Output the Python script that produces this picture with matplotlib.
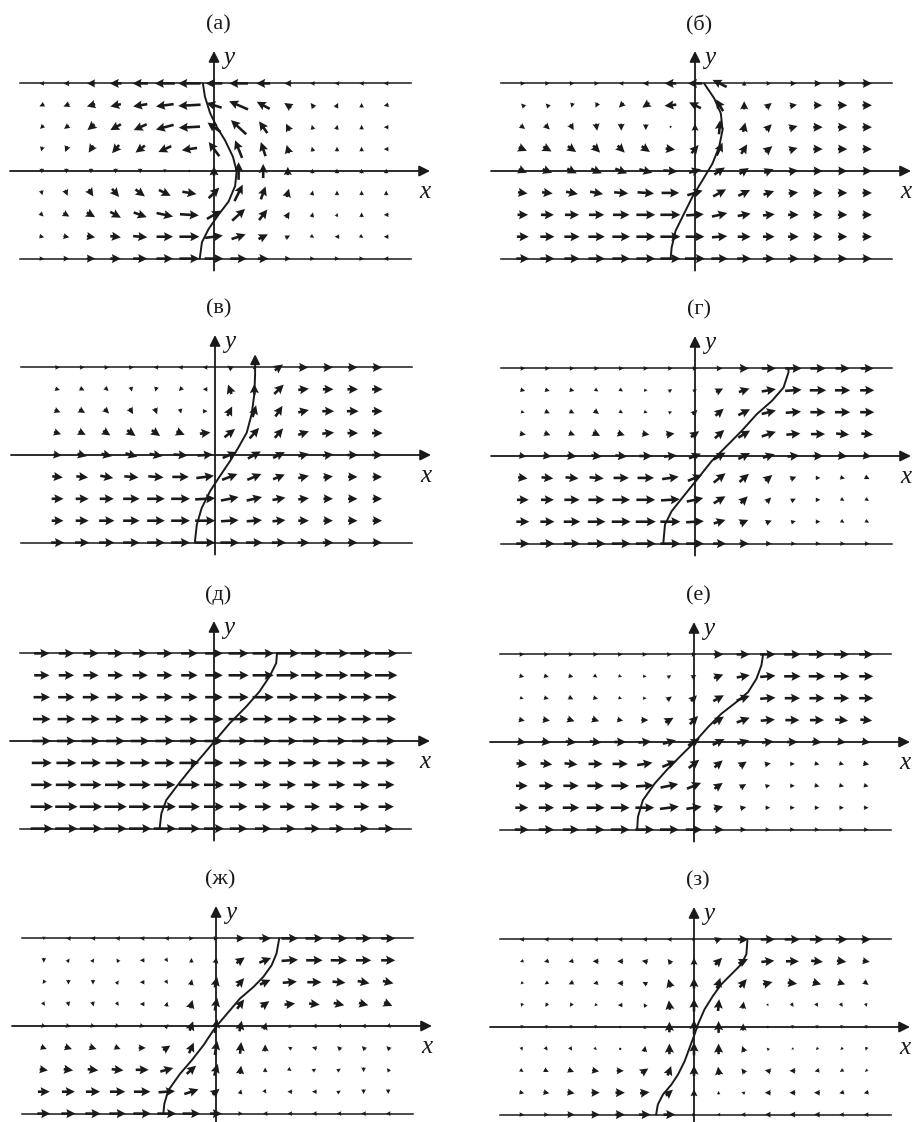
import numpy as np
import matplotlib
matplotlib.use("Agg")
import matplotlib.pyplot as plt

# Vector components in pixels, rows listed from the top wall (y=4) down to the bottom wall (y=-4)
u_a = [[-4, -5, -7, -10, -13, -17, -19, -14, -16, -12, -6, -4, -4, -4, -4],
       [-4, -5, -7, -9, -12, -15, -19, -13, -16, -11, -6, -3, 2, 0, -4],
       [-3, -4, -6, -9, -11, -15, -18, -11, -13, -7, -3, -1, 1, 0, -4],
       [-1, -2, -4, -6, -8, -11, -13, -9, -6, -4, -2, -1, 0, 0, -4],
       [0, 0, 0, 0, 0, 0, 0, 0, 0, 0, 0, 0, 0, 0, 0],
       [1, 2, 4, 6, 8, 10, 12, 9, 7, 4, 2, 1, 0, 0, 0],
       [3, 5, 7, 9, 11, 14, 16, 12, 11, 7, 3, 1, 1, 0, -4],
       [4, 5, 7, 9, 12, 14, 17, 15, 12, 8, 4, 3, -4, 3, -4],
       [4, 5, 7, 9, 12, 14, 17, 16, 14, 9, 5, 4, 4, 4, -4]]
v_a = [[0, 0, 0, 0, 0, 0, 0, 0, 0, 0, 0, 0, 0, 0, 0],
       [-2, -2, -2, -2, -2, -2, -1, 4, 7, 6, 4, 4, 4, 4, -1],
       [-3, -3, -5, -5, -5, -4, -1, 8, 12, 10, 6, 4, 4, 4, 0],
       [-4, -5, -6, -7, -6, -5, -2, 12, 15, 12, 7, 4, 4, 4, 0],
       [-4, -4, -4, -4, -4, -3, -2, 8, 15, 12, 7, 4, 4, 4, 4],
       [-4, -5, -6, -7, -6, -5, -2, 9, 14, 11, 7, 4, 4, 4, 4],
       [-3, -3, -4, -5, -4, -3, -1, 7, 10, 9, 5, 4, 3, 4, 0],
       [-1, -1, -1, -1, -1, 0, 0, 2, 4, 4, 2, -2, 0, -2, 0],
       [0, 0, 0, 0, 0, 0, 0, 0, 0, 0, 0, 0, 0, 0, 0]]

u_b = [[4, 4, 4, 4, -4, -5, -10, -12, -12, 0, 4, 5, 6, 7, 8],
       [-3, -3, -1, -2, -4, -6, -10, -10, -6, 0, 5, 6, 7, 8, 8],
       [4, 4, 3, 1, 0, 0, -1, 0, 1, 2, 5, 7, 8, 8, 8],
       [7, 7, 7, 6, 6, 7, 8, 6, 5, 5, 6, 7, 8, 8, 8],
       [7, 8, 8, 9, 10, 11, 12, 10, 9, 8, 8, 8, 8, 8, 8],
       [8, 9, 10, 11, 12, 14, 15, 13, 11, 10, 9, 8, 8, 8, 8],
       [9, 11, 12, 13, 14, 16, 17, 15, 13, 11, 10, 9, 8, 8, 8],
       [10, 12, 13, 14, 15, 16, 17, 16, 13, 11, 10, 9, 8, 8, 8],
       [11, 12, 13, 14, 15, 16, 17, 17, 14, 12, 10, 9, 8, 8, 8]]
v_b = [[0, 0, 0, 0, 0, 0, 0, 0, 6, 4, 0, 0, 0, 0, 0],
       [3, 3, -4, -4, -4, -4, -1, 5, 10, 7, 4, 1, 0, 0, 0],
       [-3, -4, -5, -6, -6, -5, -2, 6, 12, 8, 5, 2, 0, 0, 0],
       [-3, -4, -5, -6, -6, -5, -1, 7, 11, 8, 5, 2, 0, 0, 0],
       [-3, -3, -4, -4, -4, -3, -1, 3, 6, 5, 3, 1, 0, 0, 0],
       [-1, -1, -2, -2, -1, -1, 0, 4, 6, 5, 3, 1, 0, 0, 0],
       [0, 0, 0, 0, 0, 0, 0, 1, 3, 2, 1, 0, 0, 0, 0],
       [0, 0, 0, 0, 0, 0, 0, 0, 1, 0, 0, 0, 0, 0, 0],
       [0, 0, 0, 0, 0, 0, 0, 0, 0, 0, 0, 0, 0, 0, 0]]

# panel (в) has 14 columns shifted off the y axis
u_v = [[4, 4, 4, 4, -4, -4, -4, -4, 0, 7, 8, 8, 8, 8],
       [4, 4, 3, 1, -1, -3, -4, -3, 0, 8, 9, 9, 9, 9],
       [5, 5, 4, 3, 2, 1, 4, 4, 3, 6, 9, 10, 10, 9],
       [6, 6, 6, 7, 7, 7, 9, 9, 8, 7, 9, 10, 9, 9],
       [7, 8, 9, 10, 11, 12, 13, 12, 11, 10, 9, 9, 9, 9],
       [9, 10, 11, 12, 13, 14, 15, 13, 12, 10, 9, 8, 8, 8],
       [10, 11, 12, 14, 15, 16, 17, 15, 13, 11, 9, 8, 8, 8],
       [10, 11, 13, 14, 15, 16, 17, 15, 13, 11, 9, 8, 8, 8],
       [11, 12, 13, 14, 15, 16, 17, 16, 14, 12, 10, 9, 8, 8]]
v_v = [[0, 0, 0, 0, 0, 0, 0, 3, 3, 5, 0, 0, 0, 0],
       [-1, -2, -3, -4, -4, -3, 0, 8, 9, 8, 1, 0, 0, 0],
       [-2, -3, -4, -5, -5, -4, 0, 8, 10, 9, 2, 0, 0, 0],
       [-2, -3, -4, -5, -5, -3, 1, 7, 9, 8, 3, 1, 0, 0],
       [-1, -2, -2, -3, -2, -1, 1, 5, 6, 5, 2, 1, 0, 0],
       [-1, -1, -2, -1, -1, 0, 2, 5, 5, 4, 2, 1, 0, 0],
       [0, 0, 0, 0, 0, 0, 1, 3, 3, 2, 1, 0, 0, 0],
       [0, 0, 0, 0, 0, 0, 0, 1, 1, 1, 0, 0, 0, 0],
       [0, 0, 0, 0, 0, 0, 0, 0, 0, 0, 0, 0, 0, 0]]

u_g = [[4, 4, 4, 4, 4, 4, 4, 4, 5, 8, 12, 14, 13, 12, 11],
       [4, 4, 4, 3, 3, 3, 3, 3, 6, 9, 12, 14, 14, 13, 12],
       [3, 4, 4, 4, 3, 3, 3, 4, 7, 10, 12, 13, 13, 13, 12],
       [5, 5, 5, 6, 6, 6, 7, 7, 8, 10, 12, 12, 12, 11, 10],
       [6, 7, 8, 9, 10, 11, 11, 10, 10, 10, 10, 10, 9, 8, 7],
       [8, 10, 11, 12, 13, 14, 14, 12, 10, 8, 6, 5, 4, 4, 4],
       [10, 11, 13, 14, 15, 16, 16, 14, 10, 6, 4, 4, 4, 3, 3],
       [11, 12, 14, 15, 16, 17, 17, 15, 10, 7, 5, 4, 4, 3, 3],
       [11, 12, 14, 15, 16, 17, 17, 15, 11, 8, 5, 4, 4, 4, 4]]
v_g = [[0, 0, 0, 0, 0, 0, 0, 0, 0, 0, 0, 0, 0, 0, 0],
       [-1, -1, -1, -2, -2, 0, 2, 2, 3, 3, 2, 1, 0, 0, 0],
       [-1, -2, -2, -3, -2, -1, 1, 4, 6, 5, 3, 1, 0, 0, 0],
       [-1, -2, -2, -3, -2, -1, 1, 5, 7, 6, 4, 1, 0, -1, -1],
       [-1, -1, -1, -1, -1, 0, 1, 4, 6, 5, 3, 1, 0, -1, -1],
       [-1, -1, -1, -1, 0, 0, 2, 5, 8, 7, 5, 2, 0, -1, -2],
       [0, 0, 0, 0, 0, 0, 1, 3, 6, 6, 4, 2, 0, -2, -2],
       [0, 0, 0, 0, 0, 0, 0, 1, 3, 3, 2, 1, 0, -2, -2],
       [0, 0, 0, 0, 0, 0, 0, 0, 0, 0, 0, 0, 0, 0, 0]]

u_d = [[13, 13, 13, 13, 13, 13, 14, 15, 17, 18, 19, 19, 19, 19, 19],
       [13, 13, 13, 13, 13, 13, 14, 15, 17, 18, 19, 19, 19, 19, 19],
       [14, 14, 14, 14, 14, 14, 14, 15, 17, 18, 18, 18, 18, 18, 18],
       [15, 15, 15, 15, 15, 15, 15, 16, 17, 17, 17, 17, 17, 17, 17],
       [16, 16, 16, 16, 16, 16, 16, 16, 16, 16, 16, 16, 16, 16, 16],
       [17, 17, 17, 17, 17, 17, 17, 16, 15, 15, 15, 15, 15, 15, 15],
       [18, 18, 18, 18, 18, 18, 18, 17, 15, 14, 14, 14, 14, 14, 14],
       [19, 19, 19, 19, 19, 19, 18, 17, 15, 14, 13, 13, 13, 13, 13],
       [19, 19, 19, 19, 19, 19, 18, 17, 15, 14, 13, 13, 13, 13, 13]]
v_d = [[0] * 15 for _ in range(9)]

u_e = [[4, 4, 4, 4, 4, 4, 4, 4, 8, 11, 13, 14, 14, 13, 12],
       [4, 4, 4, 3, 3, 3, 3, 4, 8, 11, 13, 14, 14, 13, 12],
       [3, 4, 4, 4, 3, 3, 4, 5, 9, 11, 13, 13, 13, 13, 12],
       [5, 6, 6, 6, 5, 6, 7, 7, 9, 11, 12, 12, 12, 11, 10],
       [7, 8, 9, 10, 10, 11, 11, 10, 10, 10, 10, 9, 8, 7, 7],
       [9, 10, 11, 12, 13, 13, 12, 9, 7, 6, 5, 4, 4, 4, 5],
       [10, 12, 13, 14, 15, 15, 15, 12, 7, 5, 4, 4, 4, 4, 4],
       [11, 13, 14, 15, 16, 16, 16, 13, 8, 5, 4, 4, 4, 4, 4],
       [12, 13, 14, 15, 16, 16, 16, 14, 9, 5, 4, 4, 4, 4, 4]]
v_e = [[0, 0, 0, 0, 0, 0, 0, 0, 0, 0, 0, 0, 0, 0, 0],
       [-1, -1, -1, -2, -1, 0, 2, 2, 3, 2, 1, 0, 0, 0, 0],
       [-1, -1, -2, -1, -1, 0, 3, 5, 5, 4, 1, 0, 0, 0, 0],
       [-1, -1, -2, -2, -1, 0, 4, 7, 6, 4, 1, 0, 0, -1, -1],
       [-1, -1, -1, -1, 0, 1, 3, 6, 5, 3, 1, 0, -1, -1, -1],
       [-1, -1, -1, 0, 0, 2, 5, 7, 6, 4, 1, 0, -1, -1, -1],
       [0, 0, 0, 0, 0, 1, 3, 5, 5, 3, 1, 0, -1, -1, -1],
       [0, 0, 0, 0, 0, 0, 2, 2, 2, 1, 0, 0, 0, 0, 0],
       [0, 0, 0, 0, 0, 0, 0, 0, 0, 0, 0, 0, 0, 0, 0]]

u_zh = [[0, -4, -4, -4, -4, -4, 4, 4, 7, 10, 14, 15, 14, 13, 12],
        [0, 2, 2, -2, -4, 2, 0, 1, 7, 10, 14, 14, 14, 13, 12],
        [-2, 0, 0, 2, -4, 2, 1, 2, 6, 9, 12, 12, 11, 10, 9],
        [2, 1, 1, 2, -4, 1, 2, 2, 6, 7, 9, 9, 9, 8, 7],
        [4, 4, 4, 4, 4, 3, 3, 2, 2, 2, 0, -4, -4, -4, -4],
        [5, 6, 6, 5, 6, 6, 4, 2, 1, 0, -3, -4, -3, -3, -3],
        [7, 8, 9, 10, 11, 11, 8, 3, 1, 0, 3, 3, 3, 0, -2],
        [10, 11, 12, 13, 14, 14, 12, 6, 1, 2, -4, -4, 3, 0, 0],
        [11, 12, 13, 14, 15, 16, 15, 10, 4, -4, -4, -4, -4, -4, -4]]
v_zh = [[-3, 0, 0, 0, 0, 0, 0, 0, 0, 0, 0, 0, 0, 0, 0],
        [-4, 3, 3, 3, 0, -3, 4, 5, 5, 4, 1, 0, 0, 0, 0],
        [-3, -4, -4, 3, 0, -3, 5, 9, 7, 4, 1, 0, -1, -2, -2],
        [-3, -4, -4, -3, 0, 4, 7, 11, 8, 5, 1, -1, -2, -2, -3],
        [-1, -1, -1, -1, -1, 3, 8, 12, 9, 6, 3, 0, 0, 0, -1],
        [-2, -2, -2, -2, 0, 4, 9, 12, 10, 6, 2, 1, 3, 3, 3],
        [-1, -1, -1, -1, 0, 3, 7, 10, 7, 4, -2, 2, 2, -4, 3],
        [0, 0, 0, 0, 0, 1, 4, 5, 4, -3, 0, 0, 2, -4, -4],
        [0, 0, 0, 0, 0, 0, 0, 0, 0, 0, 0, 0, 0, 0, 0]]

u_z = [[-4, -4, -4, -4, -4, -4, -4, 3, 6, 9, 12, 13, 12, 10, 8],
       [-3, -4, -4, -5, -5, -5, -3, 0, 6, 8, 11, 11, 10, 8, 6],
       [-2, -3, -4, -4, -5, -4, -2, 0, 3, 6, 8, 8, 7, 6, 4],
       [-1, -2, -2, -2, -4, -2, -1, 0, 1, 1, 1, 2, 2, 2, 1],
       [0, 0, 0, 0, 0, 0, 0, 0, 0, 0, 0, 0, 0, 0, 0],
       [1, 2, 2, 2, 1, 1, 0, 0, 0, -2, -2, -2, -2, -2, -1],
       [3, 4, 5, 6, 6, 6, 3, 0, -1, -3, -5, -5, -4, -3, -2],
       [4, 5, 6, 7, 8, 8, 6, 0, 0, -3, -5, -5, -5, -4, -4],
       [4, 4, 6, 7, 8, 10, 10, 3, -3, -4, -5, -5, -5, -4, -4]]
v_z = [[0, 0, 0, 0, 0, 0, 0, 0, 2, 0, 0, 0, 0, 0, 0],
       [-1, -1, -1, 0, 0, 1, 4, 6, 6, 4, 1, 0, -1, -1, -1],
       [-2, -2, -2, -1, 0, 2, 7, 9, 9, 7, 2, -1, -2, -2, -3],
       [-3, -3, -3, -2, 0, 3, 8, 11, 10, 6, -2, -3, -3, -3, -3],
       [-3, -3, -3, -3, -2, 3, 9, 12, 10, 6, 2, -3, -3, -3, -3],
       [-3, -3, -3, -2, 1, 5, 9, 11, 9, 5, 2, -1, -2, -2, -3],
       [-2, -2, -2, -1, 0, 4, 8, 9, 7, 4, 1, 0, -1, -2, -2],
       [-1, -1, -1, 0, 0, 1, 5, 6, 3, 1, 0, 0, 0, -1, -1],
       [0, 0, 0, 0, 0, 0, 0, 0, 0, 0, 0, 0, 0, 0, 0]]

# material lines, (x, y) in grid units
curve_a = [(-0.45, 4.0), (-0.37, 3.4), (-0.16, 2.65), (0.12, 2.0), (0.45, 1.4), (0.77, 0.65),
           (0.92, 0.0), (0.86, -0.68), (0.59, -1.4), (0.18, -2.0), (-0.22, -2.65),
           (-0.49, -3.25), (-0.58, -4.0)]
curve_b = [(-0.99, -4.0), (-0.95, -3.5), (-0.79, -2.73), (-0.45, -1.96), (-0.11, -1.19),
           (0.30, -0.43), (0.71, 0.34), (0.98, 1.1), (1.12, 1.87), (1.05, 2.63),
           (0.78, 3.32), (0.37, 4.0)]
curve_v = [(-0.82, -4.0), (-0.74, -3.18), (-0.54, -2.42), (-0.2, -1.65), (0.2, -0.96),
           (0.61, -0.28), (0.95, 0.34), (1.29, 1.02), (1.49, 1.87), (1.6, 2.78),
           (1.63, 3.7), (1.63, 4.0)]
curve_v_tip = (1.63, 4.6)
curve_g = [(-1.29, -4.0), (-1.22, -3.13), (-0.95, -2.52), (-0.41, -1.76), (0.14, -0.99),
           (0.68, -0.23), (1.22, 0.38), (1.90, 1.15), (2.51, 1.91), (3.13, 2.52),
           (3.6, 3.13), (3.8, 3.82), (3.8, 4.0)]
curve_d = [(-2.21, -4.0), (-2.14, -3.31), (-1.94, -2.70), (-1.53, -2.09), (-0.99, -1.33),
           (-0.45, -0.64), (0.03, 0.0), (0.64, 0.81), (1.31, 1.57), (1.85, 2.26),
           (2.26, 2.95), (2.53, 3.56), (2.56, 4.0)]
curve_e = [(-2.31, -4.0), (-2.28, -3.42), (-2.08, -2.66), (-1.60, -1.9), (-1.06, -1.22),
           (-0.52, -0.61), (0.03, 0.0), (0.57, 0.68), (1.11, 1.29), (1.73, 1.83),
           (2.2, 2.28), (2.54, 2.89), (2.74, 3.5), (2.81, 4.0)]
curve_zh = [(-2.14, -4.0), (-2.10, -3.55), (-1.94, -2.94), (-1.46, -2.18), (-0.99, -1.57),
            (-0.51, -0.88), (-0.11, -0.2), (0.16, 0.18), (0.57, 0.72), (0.97, 1.25),
            (1.52, 1.78), (1.92, 2.24), (2.26, 2.77), (2.46, 3.31), (2.57, 4.0)]
curve_z = [(-1.54, -4.0), (-1.47, -3.54), (-1.26, -3.08), (-0.92, -2.63), (-0.65, -2.17),
           (-0.38, -1.56), (-0.18, -0.95), (0.0, -0.41), (0.16, 0.12), (0.43, 0.81),
           (0.77, 1.42), (1.11, 1.95), (1.52, 2.41), (1.93, 2.87), (2.13, 3.33),
           (2.17, 3.94)]

titles = ["(а)", "(б)", "(в)", "(г)", "(д)", "(е)", "(ж)", "(з)"]
cols_full = list(range(-7, 8))
cols_shift = [k - 6.4 for k in range(14)]
rows = [4, 3, 2, 1, 0, -1, -2, -3, -4]

DX, DY = 24.6, 21.9
INK = "#1a1a1a"

# (title, centre x, centre y, u, v, columns, curve)
panels = [
    (titles[0], 214, 171, u_a, v_a, cols_full, curve_a),
    (titles[1], 695, 171, u_b, v_b, cols_full, curve_b),
    (titles[2], 215, 455, u_v, v_v, cols_shift, curve_v),
    (titles[3], 695, 456, u_g, v_g, cols_full, curve_g),
    (titles[4], 214, 741, u_d, v_d, cols_full, curve_d),
    (titles[5], 694, 742, u_e, v_e, cols_full, curve_e),
    (titles[6], 216, 1026, u_zh, v_zh, cols_full, curve_zh),
    (titles[7], 694, 1027, u_z, v_z, cols_full, curve_z),
]

fig = plt.figure(figsize=(9.15, 11.22), dpi=100)
ax = fig.add_axes([0, 0, 1, 1])
ax.set_xlim(0, 915)
ax.set_ylim(1122, 0)
ax.axis("off")

serif = ["Liberation Serif", "DejaVu Serif"]
axis_arrow = dict(arrowstyle="-|>", color=INK, lw=1.3, mutation_scale=16,
                  shrinkA=0, shrinkB=0)

for title, cx, cy, u, v, cols, curve in panels:
    top, bot = cy - 4 * DY, cy + 4 * DY
    # channel walls
    ax.plot([cx - 194, cx + 197], [top, top], color=INK, lw=1.1, zorder=2)
    ax.plot([cx - 194, cx + 197], [bot, bot], color=INK, lw=1.1, zorder=2)
    # coordinate axes
    ax.annotate("", xy=(cx + 216, cy), xytext=(cx - 204, cy),
                arrowprops=axis_arrow, annotation_clip=False, zorder=2)
    ax.annotate("", xy=(cx, cy - 120), xytext=(cx, bot + 12),
                arrowprops=axis_arrow, annotation_clip=False, zorder=2)
    ax.text(cx + 4, cy - 146, title, ha="center", va="center", fontsize=16,
            family=serif, color=INK)
    ax.text(cx + 15, cy - 113, "y", ha="center", va="center", fontsize=18,
            family=serif, style="italic", color=INK)
    ax.text(cx + 211, cy + 21, "x", ha="center", va="center", fontsize=18,
            family=serif, style="italic", color=INK)

    # velocity arrows
    gx, gy = np.meshgrid(cols, rows)
    X = cx + gx * DX
    Y = cy - gy * DY
    U = np.array(u, dtype=float)
    V = -np.array(v, dtype=float)
    ax.quiver(X, Y, U, V, angles="xy", scale_units="xy", scale=0.85, pivot="middle",
              units="xy", width=2.6, headwidth=3.5, headlength=3.5,
              headaxislength=3.1, color=INK, zorder=3)

    # material line
    cxs = [cx + p[0] * DX for p in curve]
    cys = [cy - p[1] * DY for p in curve]
    ax.plot(cxs, cys, color=INK, lw=1.4, zorder=4, solid_capstyle="round")

# arrowhead closing the line in panel (в)
cx, cy = panels[2][1], panels[2][2]
ax.annotate("", xy=(cx + curve_v_tip[0] * DX, cy - curve_v_tip[1] * DY),
            xytext=(cx + curve_v[-1][0] * DX, cy - curve_v[-1][1] * DY),
            arrowprops=dict(arrowstyle="-|>", color=INK, lw=1.4,
                            mutation_scale=14, shrinkA=0, shrinkB=0), zorder=4)

fig.savefig("out.png", dpi=100)
